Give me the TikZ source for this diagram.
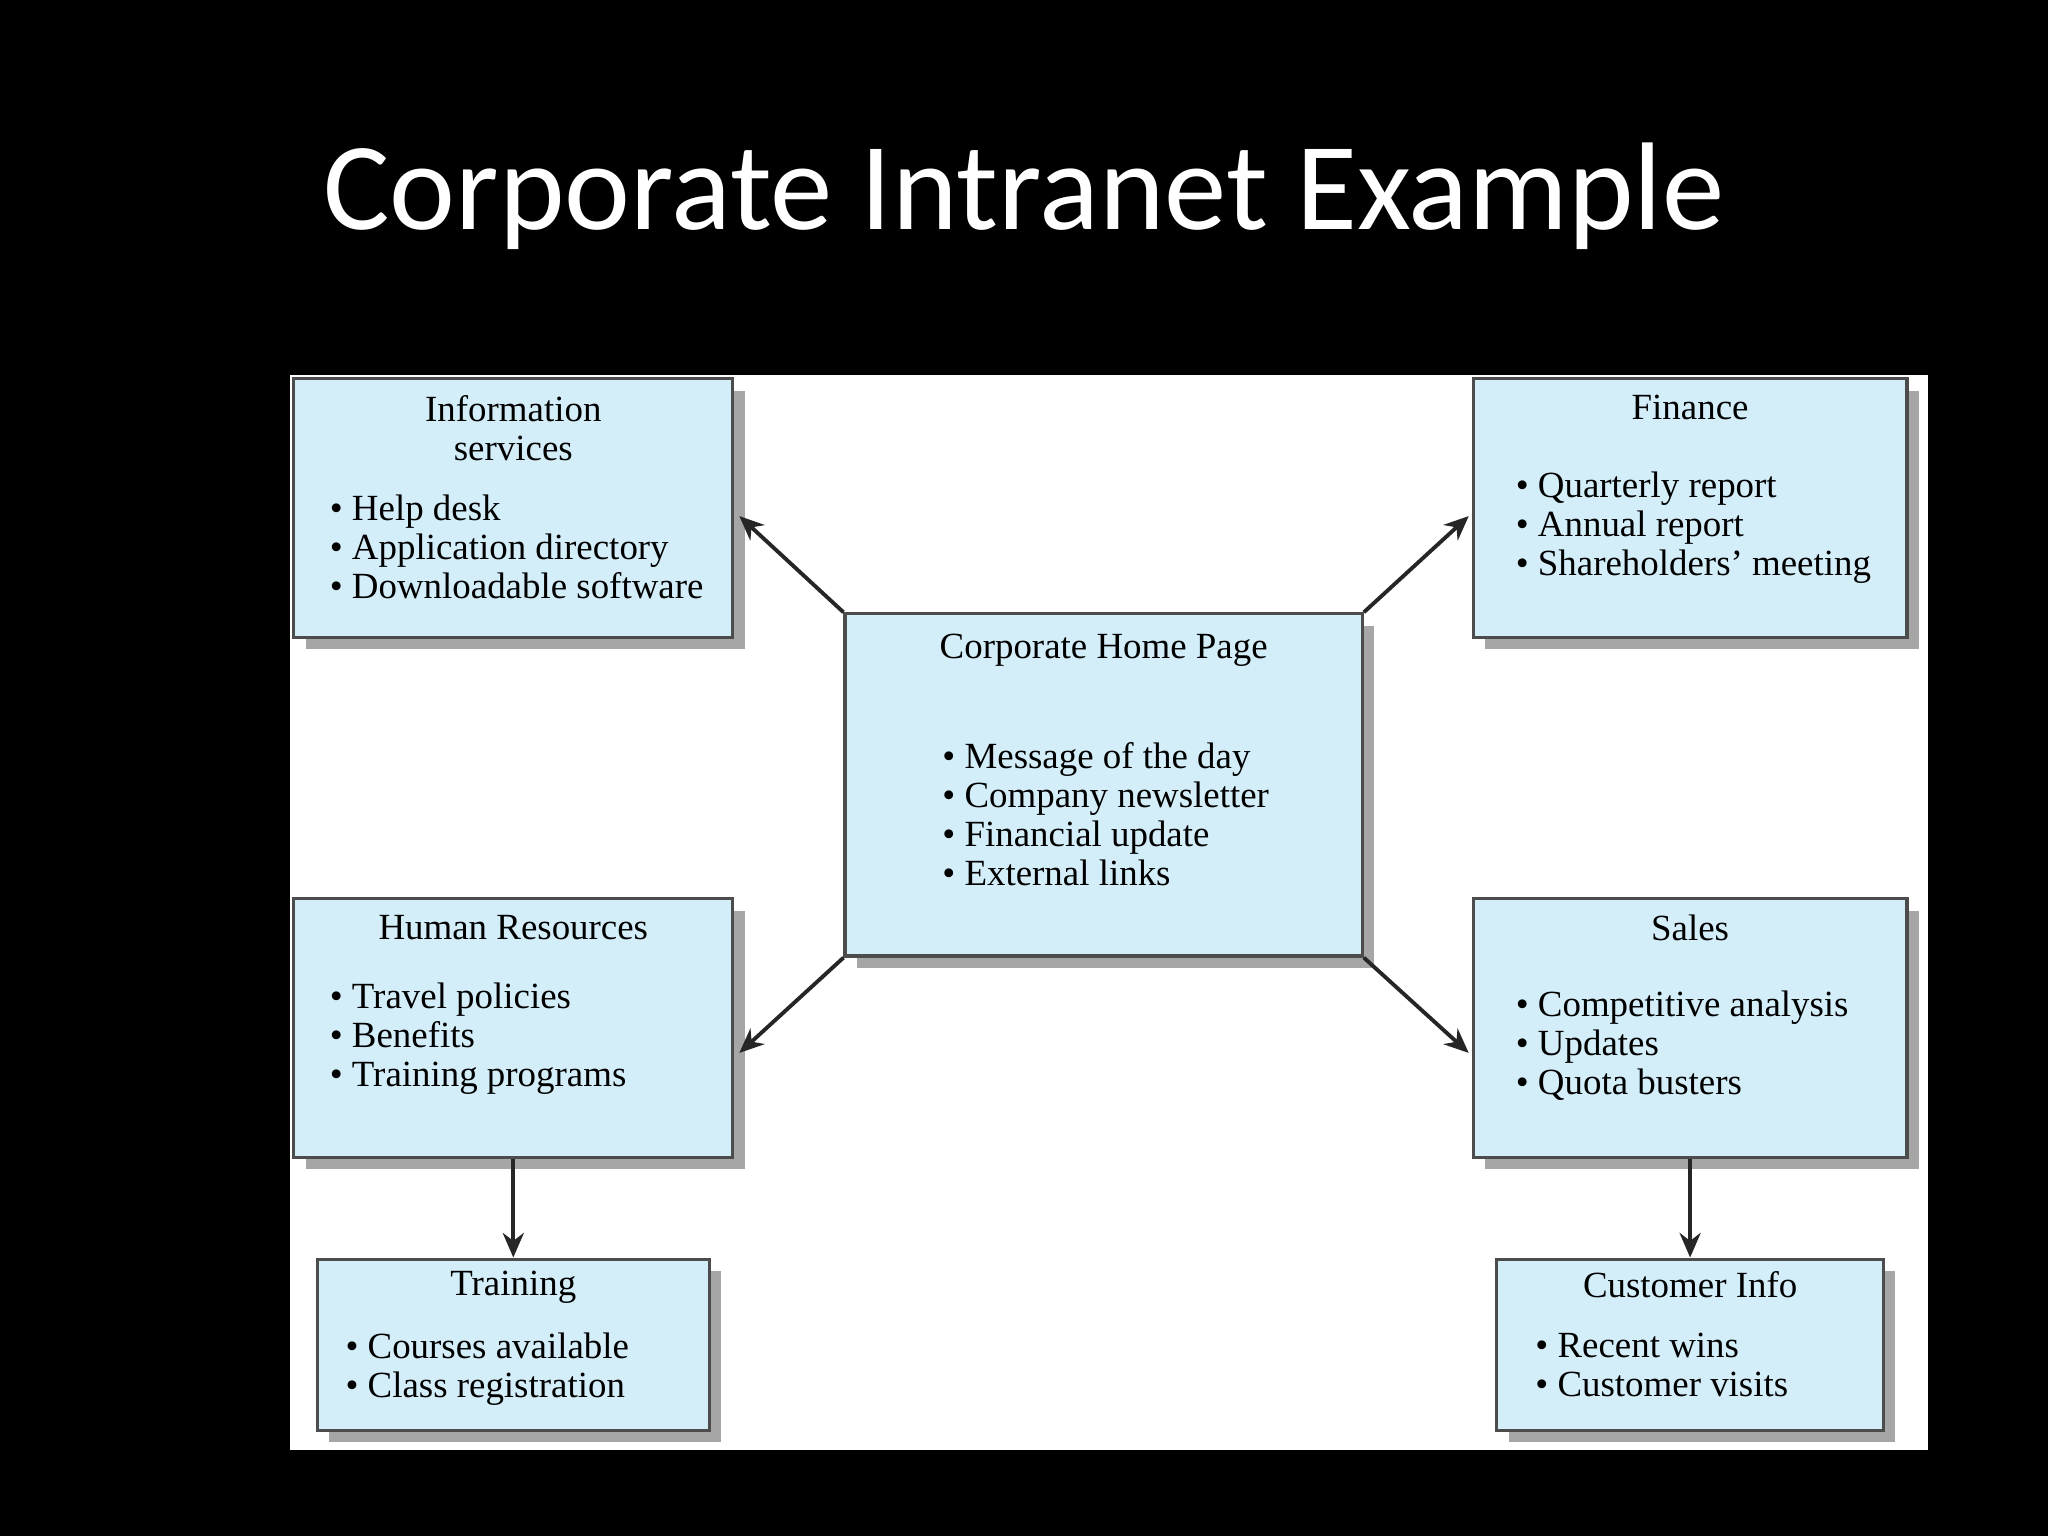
\documentclass[tikz,border=0pt]{standalone}
\usepackage{fontspec}
\setmainfont{Liberation Serif}
\newfontfamily\titlefont{Carlito}
\usetikzlibrary{shadows,arrows.meta}
\definecolor{boxblue}{HTML}{D3EEF9}
\begin{document}
\begin{tikzpicture}[x=0.013061cm,y=-0.013061cm,
  box/.style={draw=black!70,line width=0.9pt,fill=boxblue,
    drop shadow={shadow xshift=0.12cm,shadow yshift=-0.12cm,fill=black!35,opacity=1}},
  ttl/.style={anchor=north,align=center,font=\fontsize{10.5}{11.1}\selectfont,inner sep=0pt},
  lst/.style={anchor=north west,align=left,font=\fontsize{10.5}{11.1}\selectfont,inner sep=0pt},
  arr/.style={-{Stealth[length=7pt,width=6pt]},line width=1.1pt,black!85}]
\fill[black] (0,0) rectangle (1568,1176);
\useasboundingbox (0,0) rectangle (1568,1176);
\node[text=white,font=\titlefont\fontsize{35.5}{42}\selectfont] (title) at (784,150) {Corporate Intranet Example};
\fill[white] (222,287) rectangle (1476,1110);
\node[box,minimum width=4.389cm,minimum height=2.586cm] (info) at (393,389) {};
\node[box,minimum width=4.336cm,minimum height=2.586cm] (fin) at (1294,389) {};
\node[box,minimum width=5.172cm,minimum height=3.422cm] (ctr) at (845,601) {};
\node[box,minimum width=4.389cm,minimum height=2.586cm] (hr) at (393,787) {};
\node[box,minimum width=4.336cm,minimum height=2.586cm] (sales) at (1294,787) {};
\node[box,minimum width=3.918cm,minimum height=1.711cm] (train) at (393,1029.5) {};
\node[box,minimum width=3.866cm,minimum height=1.711cm] (cust) at (1294,1029.5) {};
% texts
\node[ttl] (infot) at (393,302) {Information\\services};
\node[lst] (infol) at (252,378) {• Help desk\\• Application directory\\• Downloadable software};
\node[ttl] (fint) at (1294,302) {Finance};
\node[lst] (finl) at (1160,361) {• Quarterly report\\• Annual report\\• Shareholders' meeting};
\node[ttl] (ctrt) at (845,485) {Corporate Home Page};
\node[lst] (ctrl) at (721,568) {• Message of the day\\• Company newsletter\\• Financial update\\• External links};
\node[ttl] (hrt) at (393,700) {Human Resources};
\node[lst] (hrl) at (252,752) {• Travel policies\\• Benefits\\• Training programs};
\node[ttl] (salest) at (1294,700) {Sales};
\node[lst] (salesl) at (1160,758) {• Competitive analysis\\• Updates\\• Quota busters};
\node[ttl] (traint) at (393,973) {Training};
\node[lst] (trainl) at (264,1020) {• Courses available\\• Class registration};
\node[ttl] (custt) at (1294,973) {Customer Info};
\node[lst] (custl) at (1175,1020) {• Recent wins\\• Customer visits};
% arrows
\draw[arr] (ctr.north west) -- ([xshift=0.05cm,yshift=-0.08cm]info.east);
\draw[arr] (ctr.north east) -- ([xshift=-0.03cm,yshift=-0.08cm]fin.west);
\draw[arr] (ctr.south west) -- ([xshift=0.05cm,yshift=-0.25cm]hr.east);
\draw[arr] (ctr.south east) -- ([xshift=-0.03cm,yshift=-0.25cm]sales.west);
\draw[arr] (hr.south) -- (train.north);
\draw[arr] (sales.south) -- (cust.north);
\end{tikzpicture}
\end{document}
